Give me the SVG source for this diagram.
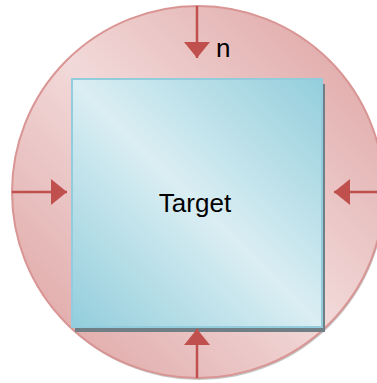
<svg xmlns="http://www.w3.org/2000/svg" width="377" height="383" viewBox="0 0 377 383">
  <defs>
    <linearGradient id="gPink" x1="1" y1="0" x2="0" y2="1">
      <stop offset="0" stop-color="#DC9F9E"/>
      <stop offset="0.5" stop-color="#F2D9D9"/>
      <stop offset="1" stop-color="#DC9F9E"/>
    </linearGradient>
    <linearGradient id="gBlue" x1="1" y1="0" x2="0" y2="1">
      <stop offset="0" stop-color="#93CEDC"/>
      <stop offset="0.5" stop-color="#DAEEF3"/>
      <stop offset="1" stop-color="#93CEDC"/>
    </linearGradient>
    <marker id="ah" viewBox="0 0 16 26" refX="16" refY="13" markerWidth="16" markerHeight="26" markerUnits="userSpaceOnUse" orient="auto">
      <path d="M0,0 L16,13 L0,26 Z" fill="#C0504D"/>
    </marker>
    <style>
      .lbl { font-family: "Liberation Sans", Arial, sans-serif; font-size: 26px; fill: #000; }
      .arr { stroke: #C0504D; stroke-width: 2.5; fill: none; marker-end: url(#ah); }
    </style>
  </defs>
  <g id="region">
    <circle cx="199" cy="194" r="186" fill="#7F7F7F" opacity="0.45"/>
    <circle cx="198" cy="192" r="186" fill="url(#gPink)" stroke="#D99594" stroke-width="2"/>
  </g>
  <g id="target">
    <rect x="75" y="84" width="250" height="248" fill="#6F7F85"/>
    <rect x="72" y="79" width="250" height="248" fill="url(#gBlue)" stroke="#93CDDD" stroke-width="2"/>
    <text class="lbl" x="195" y="212" text-anchor="middle">Target</text>
  </g>
  <g id="connectors">
    <line class="arr" x1="197" y1="6" x2="197" y2="58"/>
    <line class="arr" x1="12" y1="192" x2="67" y2="192"/>
    <line class="arr" x1="380" y1="192" x2="334" y2="192"/>
    <line class="arr" x1="197" y1="378" x2="197" y2="329"/>
    <text class="lbl" x="216" y="57">n</text>
  </g>
</svg>
